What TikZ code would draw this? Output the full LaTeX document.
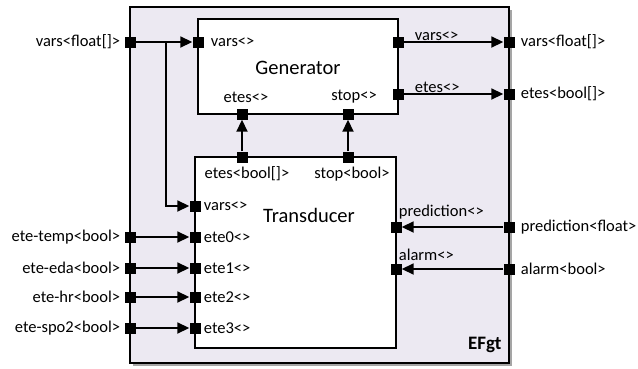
\documentclass[tikz,border=0pt]{standalone}
\usepackage{fontspec}
\setmainfont{Carlito}
\usepackage{tikz}
\usetikzlibrary{positioning,arrows.meta,shadows}

\definecolor{efgtfill}{RGB}{236,233,242}

\tikzset{
  blocco/.style={draw=black, line width=1.3pt, fill=white, inner sep=0pt},
  port/.style={rectangle, fill=black, minimum size=11pt, inner sep=0pt},
  wire/.style={line width=1.8pt, -{Triangle[length=12pt,width=11pt]}},
  lbl/.style={inner sep=0pt, font=\fontsize{16.5}{19}\selectfont},
  titolo/.style={inner sep=0pt, font=\fontsize{20.5}{24}\selectfont},
}

\begin{document}
\begin{tikzpicture}[x=1pt,y=-1pt]
  \useasboundingbox (0,0) rectangle (638,368);

  % Blocchi
  \node[blocco, fill=efgtfill, minimum width=379pt, minimum height=356pt,
        drop shadow={shadow xshift=2.5pt, shadow yshift=-2.5pt, fill=black!70, opacity=.5}]
        (efgt) at (319.5,185) {};
  \node[blocco, minimum width=200pt, minimum height=95pt] (gen) at (298,66.5) {};
  \node[blocco, minimum width=201pt, minimum height=191pt] (trans) at (295.5,252.5) {};

  \node[titolo] (lgen) at (298,68) {Generator};
  \node[titolo] (ltrans) at (309,215) {Transducer};
  \node[titolo, font=\fontsize{19}{23}\selectfont\bfseries, above left=11pt and 8pt of efgt.south east] (lefgt) {EFgt};

  % Porte esterne
  \node[port] (oVars) at (130,42) {};
  \node[port] (oVarsOut) at (509,42) {};
  \node[port] (oEtesOut) at (509,94) {};
  \node[port] (oPred) at (509,227) {};
  \node[port] (oAlarm) at (509,269) {};

  % Porte del Generator
  \node[port] (gVarsIn) at (198,42) {};
  \node[port] (gVarsOut) at (398,42) {};
  \node[port] (gEtesOut) at (398,94) {};
  \node[port] (gEtes) at (242,114) {};
  \node[port] (gStop) at (348,114) {};

  % Porte del Transducer
  \node[port] (tEtes) at (242,157) {};
  \node[port] (tStop) at (348,157) {};
  \node[port] (tVars) at (195,206) {};
  \node[port] (tPred) at (396,227) {};
  \node[port] (tAlarm) at (396,269) {};

  % Etichette
  \node[lbl, left=4pt of oVars] (loVars) {vars<float[]>};
  \node[lbl, right=6pt of oVarsOut] (loVarsOut) {vars<float[]>};
  \node[lbl, right=6pt of oEtesOut] (loEtesOut) {etes<bool[]>};
  \node[lbl, right=6pt of oPred] (loPred) {prediction<float>};
  \node[lbl, right=6pt of oAlarm] (loAlarm) {alarm<bool>};

  \node[lbl, right=7pt of gVarsIn] (lgVarsIn) {vars<>};
  \node[lbl, above right=-5pt and 11pt of gVarsOut] (lgVarsOut) {vars<>};
  \node[lbl, above right=-5pt and 11pt of gEtesOut] (lgEtesOut) {etes<>};
  \node[lbl, above=5pt of gEtes, xshift=4pt] (lgEtes) {etes<>};
  \node[lbl, above=5pt of gStop, xshift=6pt] (lgStop) {stop<>};

  \node[lbl, below=4pt of tEtes, xshift=5pt] (ltEtes) {etes<bool[]>};
  \node[lbl, below=4pt of tStop, xshift=4pt] (ltStop) {stop<bool>};
  \node[lbl, right=3pt of tVars] (ltVars) {vars<>};
  \node[lbl, above right=2pt and -3pt of tPred] (ltPred) {prediction<>};
  \node[lbl, above right=2pt and -3pt of tAlarm] (ltAlarm) {alarm<>};

  % Connessioni
  \draw[wire] (oVars) -- (gVarsIn);
  \coordinate (split) at (166,42);
  \draw[wire] (split) |- (tVars);
  \draw[wire] (gVarsOut) -- (oVarsOut);
  \draw[wire] (gEtesOut) -- (oEtesOut);
  \draw[wire] (tEtes) -- (gEtes);
  \draw[wire] (tStop) -- (gStop);
  \draw[wire] (oPred) -- (tPred);
  \draw[wire] (oAlarm) -- (tAlarm);

  % Ingressi ete
  \foreach \i/\y/\nome in {0/237/temp, 1/268/eda, 2/297/hr, 3/328/spo2} {
    \node[port] (oEte\i) at (130,\y) {};
    \node[port] (tEte\i) at (195,\y) {};
    \node[lbl, left=4pt of oEte\i] (loEte\i) {ete-\nome<bool>};
    \node[lbl, right=3pt of tEte\i] (ltEte\i) {ete\i<>};
    \draw[wire] (oEte\i) -- (tEte\i);
  }
\end{tikzpicture}
\end{document}
